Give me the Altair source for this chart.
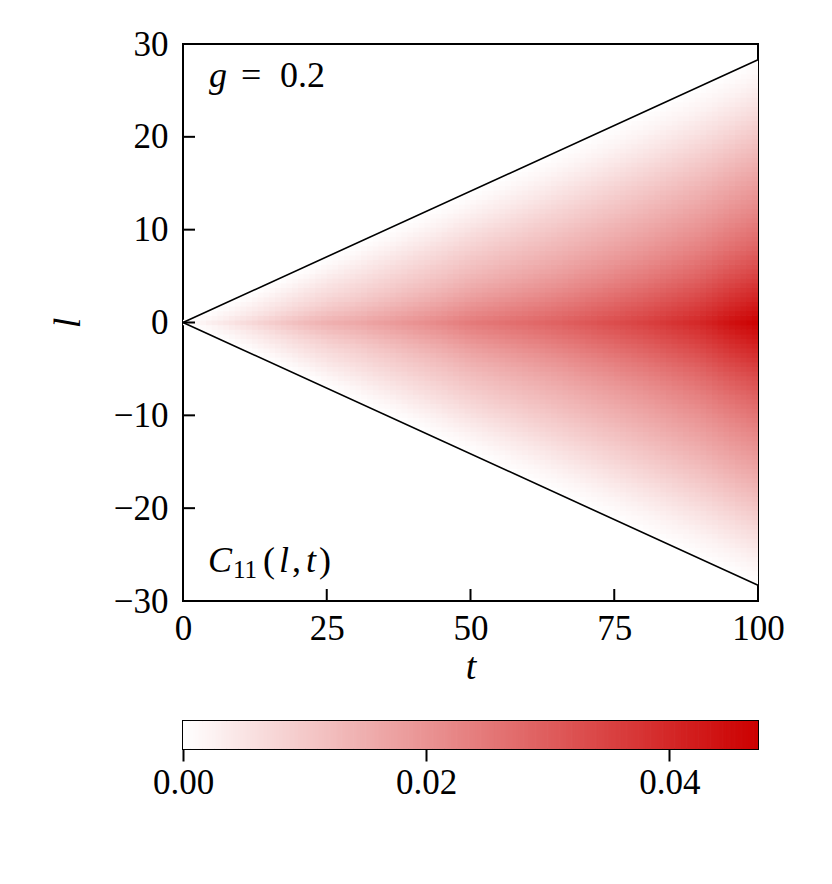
import altair as alt
import numpy as np
import pandas as pd

# ---- values ----
# value of C11 on the centre line l = 0 as a function of t
center_t = [0, 5, 10, 15, 20, 25, 30, 35, 40, 45, 50, 55, 60, 65, 70, 75, 80, 85, 90, 95, 100]
center_v = [0.0, 0.003, 0.006, 0.009, 0.012, 0.0145, 0.016, 0.018, 0.020, 0.022, 0.0245,
            0.026, 0.0275, 0.029, 0.031, 0.033, 0.035, 0.0375, 0.040, 0.044, 0.047]
# relative cross-section profile across the light cone, u = |l| / (v t)
profile_u = [0.0, 0.1, 0.2, 0.3, 0.4, 0.5, 0.6, 0.7, 0.8, 0.9, 1.0]
profile_p = [1.0, 0.86, 0.72, 0.60, 0.50, 0.41, 0.32, 0.23, 0.14, 0.06, 0.0]
# light-cone lines
cone_t = [0, 100]
cone_l_upper = [0, 28.3]
cone_l_lower = [0, -28.3]
cone_speed = 0.283
# axes
x_ticks = [0, 25, 50, 75, 100]
y_ticks = [-30, -20, -10, 0, 10, 20, 30]
cbar_ticks = [0.0, 0.02, 0.04]
cbar_max = 0.0473

FONT = "Liberation Serif"
W, H = 575, 557

# ---- heat-map cells ----
t_edges = np.arange(0, 101, 1.0)
l_step = 0.5
l_centers = np.arange(-30, 30 + 1e-9, l_step)
rows = []
for t0, t1 in zip(t_edges[:-1], t_edges[1:]):
    tc = 0.5 * (t0 + t1)
    cv = np.interp(tc, center_t, center_v)
    width = cone_speed * tc
    for lc in l_centers:
        u = abs(lc) / width
        if u >= 1:
            continue
        val = cv * np.interp(u, profile_u, profile_p)
        if val <= 0:
            continue
        # small overlap to hide anti-aliasing seams between neighbouring cells
        rows.append((t0, min(t1 + 0.15, 100), lc - 0.29, lc + 0.29, val))
cells = pd.DataFrame(rows, columns=["t0", "t1", "l0", "l1", "v"])

cscale = alt.Scale(domain=[0, cbar_max], range=["#ffffff", "#cc0000"],
                   interpolate="rgb", clamp=True)
xscale = alt.Scale(domain=[0, 100], nice=False, zero=False)
yscale = alt.Scale(domain=[-30, 30], nice=False, zero=False)

heat = alt.Chart(cells).mark_rect(strokeWidth=0).encode(
    x=alt.X("t0:Q", scale=xscale,
            axis=alt.Axis(values=x_ticks, ticks=False, domain=False, grid=False,
                          labelFontSize=35, labelPadding=10, labelFont=FONT,
                          labelColor="black", title="t", titleFont=FONT,
                          titleFontStyle="italic", titleFontWeight="normal",
                          titleFontSize=38, titlePadding=2, titleColor="black")),
    x2="t1:Q",
    y=alt.Y("l0:Q", scale=yscale,
            axis=alt.Axis(values=y_ticks, ticks=False, domain=False, grid=False,
                          labelFontSize=35, labelPadding=15, labelFont=FONT,
                          labelColor="black", title="l", titleFont=FONT,
                          titleFontStyle="italic", titleFontWeight="normal",
                          titleFontSize=38, titlePadding=26, titleColor="black")),
    y2="l1:Q",
    color=alt.Color("v:Q", scale=cscale, legend=None),
)

cone = pd.DataFrame({
    "t": cone_t + cone_t,
    "l": cone_l_upper + cone_l_lower,
    "side": ["upper"] * 2 + ["lower"] * 2,
})
lines = alt.Chart(cone).mark_line(color="black", strokeWidth=1.6).encode(
    x=alt.X("t:Q", scale=xscale), y=alt.Y("l:Q", scale=yscale), detail="side:N")

# inward ticks
xt = pd.DataFrame({"v": [v for v in x_ticks if 0 < v < 100]})
yt = pd.DataFrame({"v": [v for v in y_ticks if -30 < v < 30]})
xtick = alt.Chart(xt).mark_rule(color="black", strokeWidth=2).encode(
    x=alt.X("v:Q", scale=xscale), y=alt.value(H), y2=alt.value(H - 12))
ytick = alt.Chart(yt).mark_rule(color="black", strokeWidth=2).encode(
    y=alt.Y("v:Q", scale=yscale), x=alt.value(0), x2=alt.value(12))

# annotations (pixel positions inside the plot area)
ital = pd.DataFrame({
    "txt": ["g", "C", "l", "t"],
    "px": [26, 25, 96, 123],
    "py": [43, 528, 528, 528],
    "fs": [36, 36, 36, 36],
})
upr = pd.DataFrame({
    "txt": ["=", "0.2", "11", "(", ",", ")"],
    "px": [58, 97, 50, 80, 109, 136],
    "py": [43, 43, 534, 528, 528, 528],
    "fs": [36, 36, 25, 36, 36, 36],
})
t_it = alt.Chart(ital).mark_text(font=FONT, fontStyle="italic", align="left",
                                 baseline="alphabetic", color="black").encode(
    x=alt.X("px:Q", scale=None), y=alt.Y("py:Q", scale=None),
    text="txt:N", size=alt.Size("fs:Q", scale=None))
t_up = alt.Chart(upr).mark_text(font=FONT, align="left",
                                baseline="alphabetic", color="black").encode(
    x=alt.X("px:Q", scale=None), y=alt.Y("py:Q", scale=None),
    text="txt:N", size=alt.Size("fs:Q", scale=None))

main = alt.layer(heat, lines, xtick, ytick, t_it, t_up).properties(width=W, height=H)

# colour bar
n = 240
edges = np.linspace(0, cbar_max, n + 1)
cb = pd.DataFrame({"c0": edges[:-1], "c1": np.minimum(edges[1:] + cbar_max / n * 0.3, cbar_max),
                   "cm": 0.5 * (edges[:-1] + edges[1:])})
cbar = alt.Chart(cb).mark_rect(strokeWidth=0).encode(
    x=alt.X("c0:Q", scale=alt.Scale(domain=[0, cbar_max], nice=False, zero=False),
            axis=alt.Axis(values=cbar_ticks, format=".2f", tickSize=12, tickWidth=2,
                          tickColor="black", domain=False, grid=False, labelFontSize=35,
                          labelFont=FONT, labelColor="black", labelPadding=4, title=None)),
    x2="c1:Q",
    y=alt.value(0), y2=alt.value(28),
    color=alt.Color("cm:Q", scale=cscale, legend=None),
).properties(width=W, height=28)

chart = alt.vconcat(main, cbar, spacing=33).properties(
    padding={"left": 40, "top": 18, "right": 5, "bottom": 5}
).configure_view(stroke="black", strokeWidth=2).configure_axis(labelFlush=False)

chart.save("out.html", embed_options={"renderer": "svg", "actions": False})
